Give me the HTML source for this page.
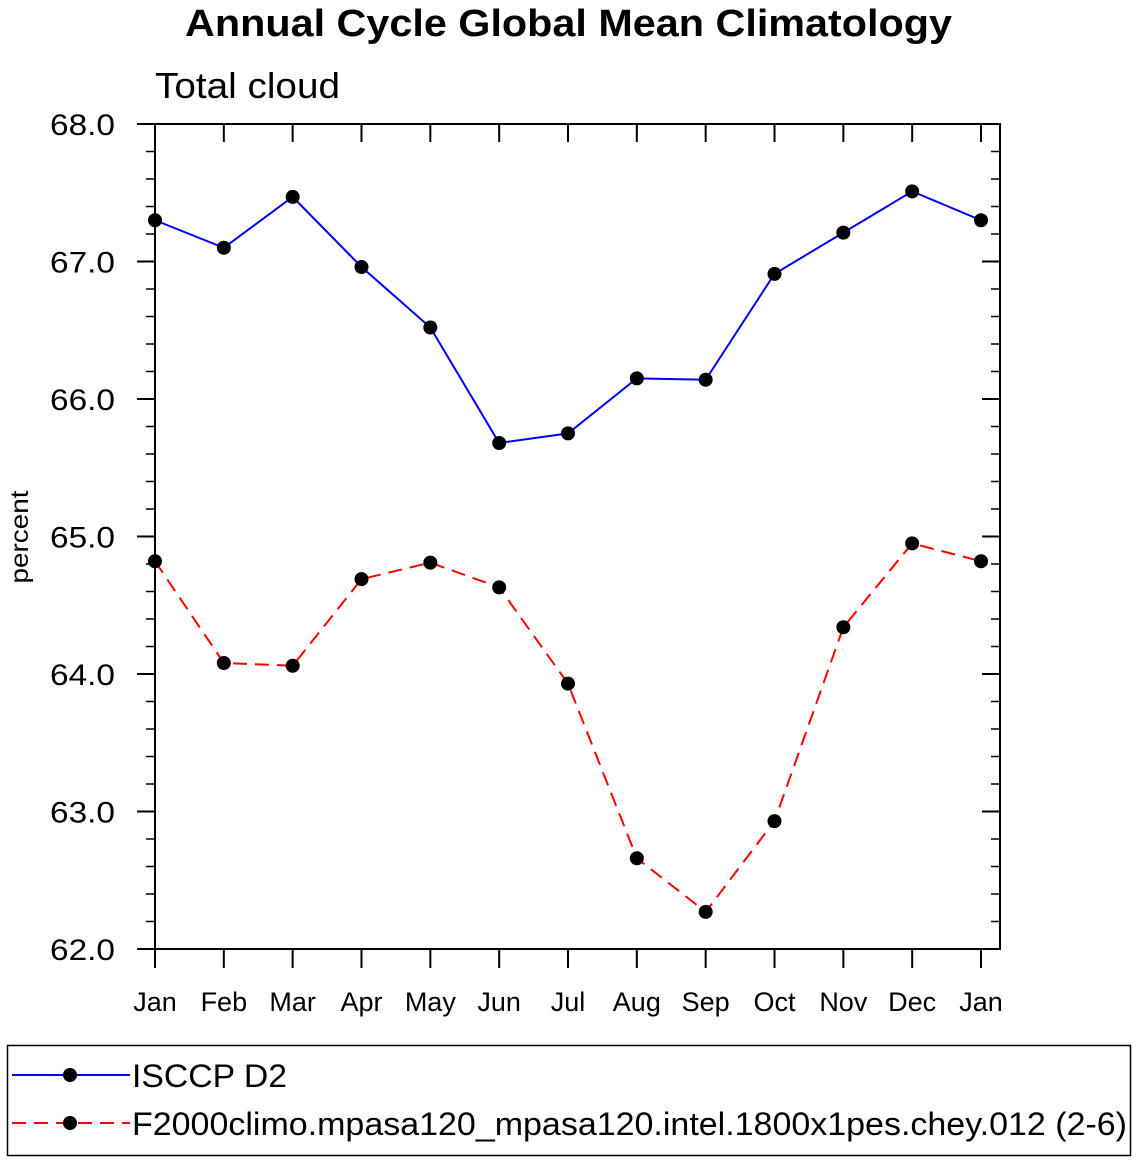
<!DOCTYPE html>
<html><head><meta charset="utf-8"><style>
html,body{margin:0;padding:0;background:#fff;}
svg text{font-family:"Liberation Sans",Arial,sans-serif;}
</style></head><body>
<svg id="chart" width="1137" height="1161" xmlns="http://www.w3.org/2000/svg">
<text x="185" y="36" font-size="38" font-weight="bold" textLength="767" lengthAdjust="spacingAndGlyphs">Annual Cycle Global Mean Climatology</text>
<text x="155" y="98" font-size="36" textLength="185" lengthAdjust="spacingAndGlyphs">Total cloud</text>
<text transform="translate(28,537) rotate(-90)" text-anchor="middle" font-size="25" textLength="93" lengthAdjust="spacingAndGlyphs">percent</text>
<g id="plot"></g>
<rect x="7.5" y="1045.5" width="1123" height="110" fill="none" stroke="#000" stroke-width="1.5"/>
<g>
<line x1="12" y1="1075" x2="130" y2="1075" stroke="#0000ff" stroke-width="2"/>
<circle cx="70" cy="1075" r="7" fill="#000"/>
<text x="132" y="1087" font-size="32" textLength="155" lengthAdjust="spacingAndGlyphs">ISCCP D2</text>
</g>
<g>
<line x1="12" y1="1123" x2="130" y2="1123" stroke="#ff0000" stroke-width="2" stroke-dasharray="14,8"/>
<circle cx="70" cy="1123" r="7" fill="#000"/>
<text x="132" y="1135" font-size="32" textLength="995" lengthAdjust="spacingAndGlyphs">F2000climo.mpasa120_mpasa120.intel.1800x1pes.chey.012 (2-6)</text>
</g>
</svg>
<script>
const months = ["Jan","Feb","Mar","Apr","May","Jun","Jul","Aug","Sep","Oct","Nov","Dec","Jan"];
const isccp = [67.30,67.10,67.47,66.96,66.52,65.68,65.75,66.15,66.14,66.91,67.21,67.51,67.30];
const model = [64.82,64.08,64.06,64.69,64.81,64.63,63.93,62.66,62.27,62.93,64.34,64.95,64.82];
const yTicks = [62.0,63.0,64.0,65.0,66.0,67.0,68.0];
const yMin = 62, yMax = 68;
const L=155,R=1000,T=124,B=949,X0=155,X1=981;
const xs = i => X0 + (X1-X0)*i/(months.length-1);
const ys = v => B - (v-yMin)/(yMax-yMin)*(B-T);
const NS="http://www.w3.org/2000/svg";
const g=document.getElementById('plot');
function el(tag,attrs){const e=document.createElementNS(NS,tag);for(const k in attrs)e.setAttribute(k,attrs[k]);g.appendChild(e);return e;}
let f=el('rect',{x:L,y:T,width:R-L,height:B-T,fill:'none',stroke:'#000','stroke-width':2});


yTicks.forEach(v=>{
  const y=ys(v);
  el('line',{x1:L-18,y1:y,x2:L,y2:y,stroke:'#000','stroke-width':2});
  el('line',{x1:R-18,y1:y,x2:R,y2:y,stroke:'#000','stroke-width':2});
  const t=el('text',{x:L-40,y:y+11,'text-anchor':'end','font-size':30,textLength:65,lengthAdjust:'spacingAndGlyphs'});
  t.textContent=v.toFixed(1);
  
  
});
for(let v=yMin;v<yMax-0.01;v+=0.2){
  const y=ys(v);
  el('line',{x1:L-9,y1:y,x2:L,y2:y,stroke:'#000','stroke-width':1.5});
  el('line',{x1:R-9,y1:y,x2:R,y2:y,stroke:'#000','stroke-width':1.5});
}
months.forEach((m,i)=>{
  const x=xs(i);
  el('line',{x1:x,y1:B,x2:x,y2:B+19,stroke:'#000','stroke-width':2});
  el('line',{x1:x,y1:T,x2:x,y2:T+18,stroke:'#000','stroke-width':2});
  const t=el('text',{x:x,y:B+62,'text-anchor':'middle','font-size':27});
  t.textContent=m;
  
  
});
function series(vals,color,dash,name){
  const p=el('polyline',{points:vals.map((v,i)=>xs(i)+','+ys(v)).join(' '),fill:'none',stroke:color,'stroke-width':2});
  if(dash)p.setAttribute('stroke-dasharray',dash);
  
  
  vals.forEach((v,i)=>{
    const c=el('circle',{cx:xs(i),cy:ys(v),r:7,fill:'#000'});
    
    
  });
}
series(isccp,'#0000ff',null,'isccp');
series(model,'#ff0000','14,8','model');
</script>
</body></html>
